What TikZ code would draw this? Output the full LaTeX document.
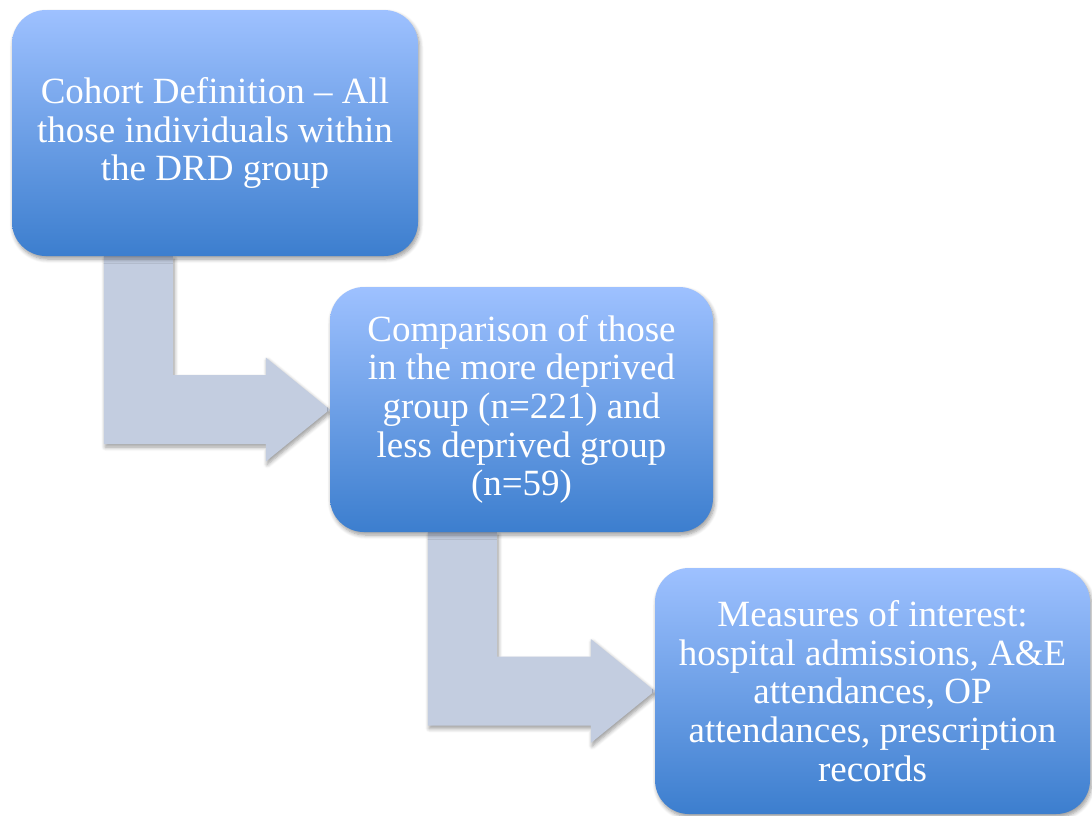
\documentclass[tikz,border=0pt]{standalone}
\usepackage{fontspec}
\setmainfont{Liberation Serif}
\usetikzlibrary{calc,shadows.blur}

\pgfdeclarelayer{background}
\pgfsetlayers{background,main}

\definecolor{boxtop}{RGB}{158,193,255}
\definecolor{boxbottom}{RGB}{60,126,206}
\definecolor{arrowfill}{RGB}{195,205,224}

\tikzset{
  softshadow/.style={blur shadow={shadow xshift=1.5pt, shadow yshift=-3pt,
      shadow blur radius=4pt, shadow blur steps=6, shadow opacity=40}},
  stagebox/.style={rounded corners=34pt, top color=boxtop, bottom color=boxbottom,
      text=white, font=\fontsize{37}{38.7}\selectfont, align=center,
      inner sep=0pt, softshadow},
  bentarrow/.style={fill=arrowfill, softshadow},
}

% bent arrow from the bottom of #1 into the left side of #2;
% #3 = distance of the vertical bar from the left edge of #1
\newcommand\stagelink[3]{%
  \begin{pgfonlayer}{background}
    \path[bentarrow] let \p1=(#1.south west), \p2=(#2.west) in
      (\x1+#3,\y1) -- (\x1+#3+69pt,\y1) -- (\x1+#3+69pt,\y2+34.5pt)
      -- (\x2-64pt,\y2+34.5pt) -- (\x2-64pt,\y2+52pt) -- (\x2,\y2)
      -- (\x2-64pt,\y2-52pt) -- (\x2-64pt,\y2-34.5pt)
      -- (\x1+#3,\y2-34.5pt) -- cycle;
  \end{pgfonlayer}}

\begin{document}
\begin{tikzpicture}[x=1pt,y=-1pt]
  \useasboundingbox (0,0) rectangle (1092,815);

  \node[stagebox, minimum width=406pt, minimum height=246pt] (cohort) at (215,133)
    {Cohort Definition – All\\those individuals within\\the DRD group};
  \node[stagebox, minimum width=383pt, minimum height=245pt] (compare) at (521.5,409.5)
    {Comparison of those\\in the more deprived\\group (n=221) and\\less deprived group\\(n=59)};
  \node[stagebox, minimum width=435pt, minimum height=246pt] (measures) at (872.5,691)
    {Measures of interest:\\hospital admissions, A\&E\\attendances, OP\\attendances, prescription\\records};

  \stagelink{cohort}{compare}{92pt}
  \stagelink{compare}{measures}{98pt}
\end{tikzpicture}
\end{document}
